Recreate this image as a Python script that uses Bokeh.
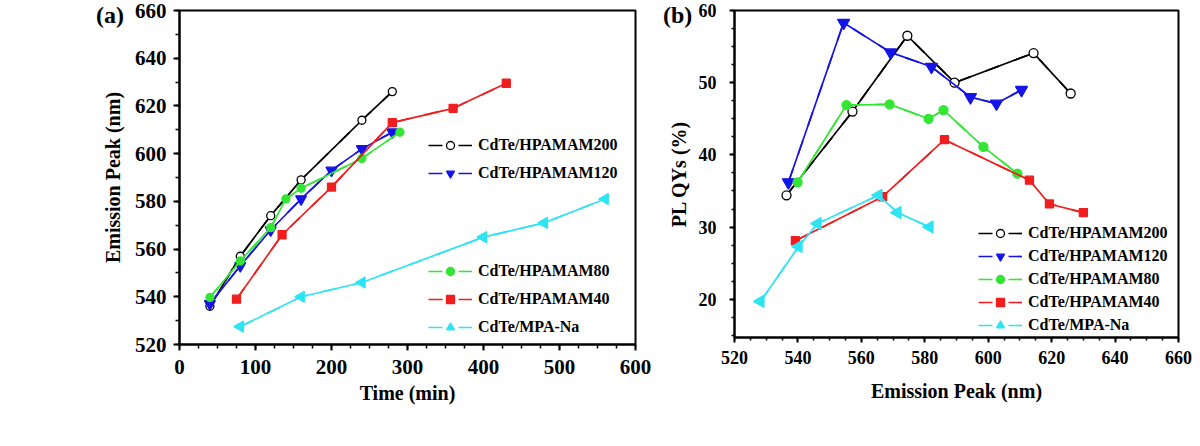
import math
from bokeh.plotting import figure
from bokeh.layouts import row
from bokeh.models import Range1d, SingleIntervalTicker, Legend, LegendItem, Div
from bokeh.embed import file_html
from bokeh.resources import INLINE

# ---------------- data ----------------
# Panel (a): emission peak (nm) vs time (min)
t_200 = [40, 80, 120, 160, 240, 280]
ep_200 = [536, 557, 574, 589, 614, 626]
t_120 = [40, 80, 120, 160, 200, 240, 280]
ep_120 = [537, 553, 568, 581, 593, 602, 609]
t_80 = [40, 80, 120, 140, 160, 240, 290]
ep_80 = [539.7, 555, 569, 581, 585.5, 598, 609]
t_40 = [75, 135, 200, 280, 360, 430]
ep_40 = [539, 566, 586, 613, 619, 629.5]
t_mpa = [80, 160, 240, 400, 480, 560]
ep_mpa = [527.5, 540, 546, 565, 571, 581]

# Panel (b): PL QYs (%) vs emission peak (nm)
pk_200 = [536.4, 557.2, 574.5, 589.4, 614.3, 626]
qy_200 = [34.4, 46.0, 56.5, 50.0, 54.1, 48.5]
pk_120 = [537, 554.4, 569.2, 582.1, 594.4, 602.6, 610.5]
qy_120 = [36.2, 58.3, 54.2, 52.2, 48.0, 47.1, 49.0]
pk_80 = [539.9, 555.3, 568.9, 581.2, 585.9, 598.5, 609.2]
qy_80 = [36.2, 46.9, 47.0, 45.0, 46.2, 41.1, 37.4]
pk_40 = [539.2, 566.7, 586.2, 613.0, 619.3, 630.0]
qy_40 = [28.1, 34.2, 42.1, 36.5, 33.2, 32.0]
pk_mpa = [528.2, 540.2, 546.2, 565.4, 571.4, 581.5]
qy_mpa = [19.7, 27.3, 30.5, 34.4, 32.0, 30.0]

names = ["CdTe/HPAMAM200", "CdTe/HPAMAM120", "CdTe/HPAMAM80", "CdTe/HPAMAM40", "CdTe/MPA-Na"]
colors = ["#000000", "#1414E6", "#33E633", "#F01E1E", "#2EE4F2"]
panel_tags = ["(a)", "(b)"]

FONT = "Liberation Serif"


def style(p, tick_size, label_size, xstand, ystand, xlstand, ylstand, tick_out):
    p.xgrid.visible = False
    p.ygrid.visible = False
    p.outline_line_color = "black"
    p.outline_line_width = 2
    p.outline_line_alpha = 1
    p.background_fill_color = "white"
    p.border_fill_color = "white"
    for ax in (p.xaxis[0], p.yaxis[0]):
        ax.axis_line_color = "black"
        ax.axis_line_width = 2
        ax.major_tick_line_color = "black"
        ax.major_tick_line_width = 2
        ax.minor_tick_line_color = "black"
        ax.minor_tick_line_width = 1.5
        ax.major_tick_in = 0
        ax.major_tick_out = tick_out
        ax.minor_tick_in = 0
        ax.minor_tick_out = tick_out - 2
        ax.major_label_text_font = FONT
        ax.major_label_text_font_style = "bold"
        ax.major_label_text_font_size = f"{tick_size}px"
        ax.major_label_text_color = "black"
        ax.axis_label_text_font = FONT
        ax.axis_label_text_font_style = "bold"
        ax.axis_label_text_font_size = f"{label_size}px"
        ax.axis_label_text_color = "black"
    p.xaxis[0].major_label_standoff = xstand
    p.yaxis[0].major_label_standoff = ystand
    p.xaxis[0].axis_label_standoff = xlstand
    p.yaxis[0].axis_label_standoff = ylstand


def add_series(p, xs, ys, color, marker, size, fill, angle=0.0):
    p.line(xs, ys, line_color=color, line_width=1.7)
    lg = p.line(xs, ys, line_color=color, line_width=1.7, line_dash="14 16")
    sc = p.scatter(xs, ys, marker=marker, size=size, line_color=color,
                   fill_color=fill, line_width=1.3, angle=angle)
    return lg, sc


def make_legend(items, x, y, spacing):
    lg = Legend(items=items, location=(x, y), orientation="vertical")
    lg.padding = 0
    lg.margin = 0
    lg.spacing = spacing
    lg.glyph_width = 44
    lg.glyph_height = 20
    lg.label_height = 20
    lg.label_standoff = 6
    lg.label_text_font = FONT
    lg.label_text_font_style = "bold"
    lg.label_text_font_size = "16px"
    lg.label_text_color = "black"
    lg.border_line_alpha = 0
    lg.background_fill_alpha = 0
    lg.click_policy = "none"
    return lg


def tag_div(text, left, top):
    html = (f"<span style=\"font-family:'{FONT}';font-weight:bold;font-size:24px;"
            f"line-height:26px;color:black;white-space:nowrap\">{text}</span>")
    return Div(text=html, width=40, height=28,
               styles={"position": "absolute", "left": f"{left}px", "top": f"{top}px",
                       "margin": "0", "padding": "0", "z-index": "10"})


# ---------------- panel (a) ----------------
pa = figure(width=660, height=446, output_backend="svg", toolbar_location=None,
            x_range=Range1d(0, 600), y_range=Range1d(520, 660),
            x_axis_label="Time (min)", y_axis_label="Emission Peak (nm)",
            min_border_left=179, min_border_right=25, min_border_top=10, min_border_bottom=102)
pa.xaxis[0].ticker = SingleIntervalTicker(interval=100, num_minor_ticks=4)
pa.yaxis[0].ticker = SingleIntervalTicker(interval=20, num_minor_ticks=2)
style(pa, 21, 20, 9, 7, 5, 8, 6)

ra = []
ra.append(add_series(pa, t_200, ep_200, colors[0], "circle", 8, "white"))
ra.append(add_series(pa, t_120, ep_120, colors[1], "inverted_triangle", 11, colors[1]))
ra.append(add_series(pa, t_80, ep_80, colors[2], "circle", 8, colors[2]))
ra.append(add_series(pa, t_40, ep_40, colors[3], "square", 8, colors[3]))
ra.append(add_series(pa, t_mpa, ep_mpa, colors[4], "triangle", 11, colors[4], angle=math.pi / 2))

items_a1 = [LegendItem(label=names[i], renderers=list(ra[i])) for i in (0, 1)]
items_a2 = [LegendItem(label=names[i], renderers=list(ra[i])) for i in (2, 3, 4)]
pa.add_layout(make_legend(items_a1, 249, 161, 8))
pa.add_layout(make_legend(items_a2, 249, 7, 8))

# ---------------- panel (b) ----------------
pb = figure(width=540, height=439, output_backend="svg", toolbar_location=None,
            x_range=Range1d(520, 660), y_range=Range1d(14.7, 60),
            x_axis_label="Emission Peak (nm)", y_axis_label="PL QYs (%)",
            min_border_left=74, min_border_right=22, min_border_top=10, min_border_bottom=102)
pb.xaxis[0].ticker = SingleIntervalTicker(interval=20, num_minor_ticks=4)
pb.yaxis[0].ticker = SingleIntervalTicker(interval=10, num_minor_ticks=4)
style(pb, 18, 20, 8, 13, 13, 6, 5)

rb = []
rb.append(add_series(pb, pk_200, qy_200, colors[0], "circle", 9, "white"))
rb.append(add_series(pb, pk_120, qy_120, colors[1], "inverted_triangle", 12, colors[1]))
rb.append(add_series(pb, pk_80, qy_80, colors[2], "circle", 9, colors[2]))
rb.append(add_series(pb, pk_40, qy_40, colors[3], "square", 8, colors[3]))
rb.append(add_series(pb, pk_mpa, qy_mpa, colors[4], "triangle", 12, colors[4], angle=math.pi / 2))

items_b = [LegendItem(label=names[i], renderers=list(rb[i])) for i in range(5)]
pb.add_layout(make_legend(items_b, 244, 2, 3))

div_a = tag_div(panel_tags[0], 96, 2)
div_b = tag_div(panel_tags[1], 663, 2)

layout = row(pa, pb, div_a, div_b)
open("out.html", "w").write(file_html(layout, INLINE))
